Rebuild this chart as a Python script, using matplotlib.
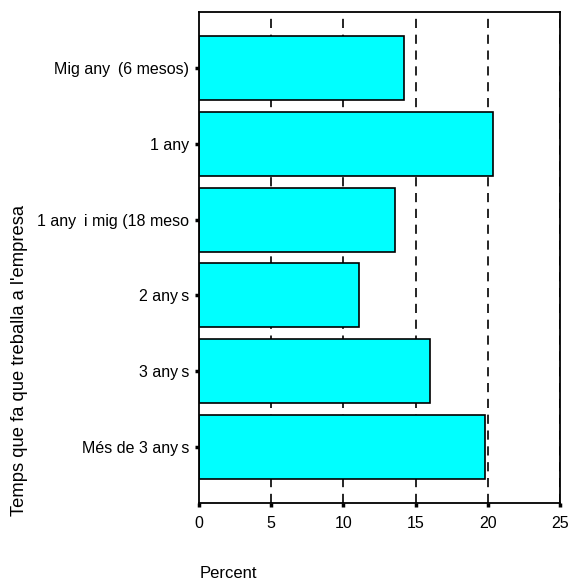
from matplotlib import pyplot as plt

categories = ['Mig any\u2009 (6 mesos)', '1 any', '1 any\u2009 i mig (18 meso',
              '2 any\u2009s', '3 any\u2009s', 'Més de 3 any\u2009s']
percents = [14.2, 20.35, 13.55, 11.1, 16.0, 19.8]
xticks = [0, 5, 10, 15, 20, 25]

plt.rcParams['font.family'] = ['Liberation Sans', 'DejaVu Sans']

fig = plt.figure(figsize=(5.70, 5.81), dpi=100)
ax = fig.add_axes([199 / 570, 1 - 503 / 581, 361 / 570, 491 / 581])

# Dashed grid behind the bars
for x in xticks[1:]:
    ax.axvline(x, color='black', linestyle=(0, (5.5, 4)), linewidth=1.2, zorder=0)

ypos = list(range(len(categories)))
ax.barh(ypos, percents, height=0.845, color='#00ffff', edgecolor='black',
        linewidth=1.2, zorder=2)

ax.set_xlim(0, 25)
ax.set_ylim(len(categories) - 0.26, -0.74)
ax.set_xticks(xticks)
ax.set_yticks(ypos)
ax.set_yticklabels(categories)

for side in ['top', 'bottom', 'left', 'right']:
    ax.spines[side].set_linewidth(1.3)
ax.tick_params(axis='both', direction='out', length=3, width=2.5, labelsize=11.5)
ax.tick_params(axis='x', pad=6)
ax.tick_params(axis='y', pad=4)

fig.text(20 / 570, 1 - 361 / 581, "Temps que fa que treballa a l'empresa",
         rotation=90, ha='center', va='center', fontsize=13.2)
fig.text(200 / 570, 1 - 574 / 581, 'Percent', ha='left', va='center',
         fontsize=12)

plt.savefig('out.png', dpi=100)
